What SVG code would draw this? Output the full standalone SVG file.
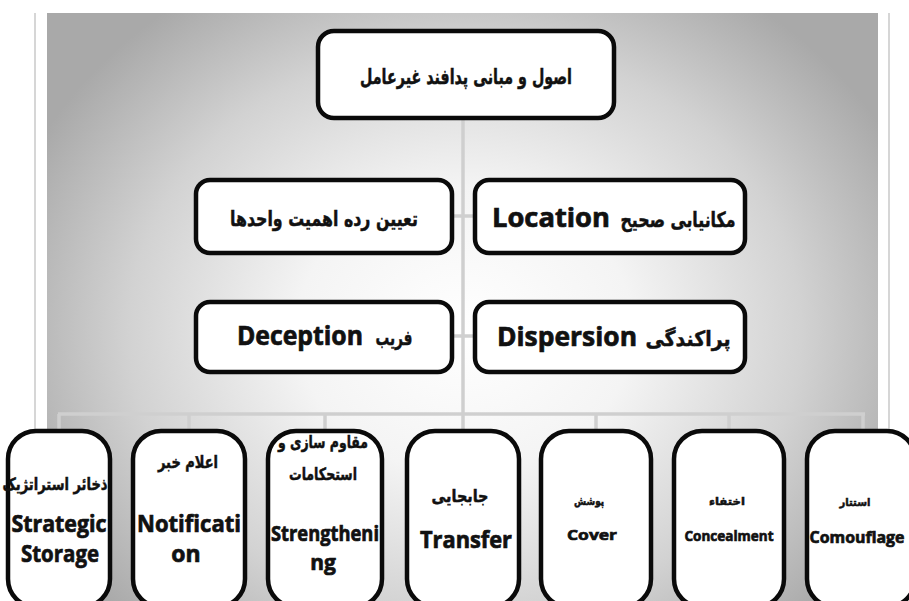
<svg xmlns="http://www.w3.org/2000/svg" width="909" height="601" viewBox="0 0 909 601">
<defs>
<radialGradient id="bg" cx="465" cy="330" r="480" gradientUnits="userSpaceOnUse" gradientTransform="translate(465 330) scale(1 0.85) translate(-465 -330)">
<stop offset="0" stop-color="#ffffff"/>
<stop offset="0.35" stop-color="#f4f4f4"/>
<stop offset="0.7" stop-color="#d2d2d2"/>
<stop offset="1" stop-color="#a9a9a9"/>
</radialGradient>
</defs>
<style>
.box{fill:#ffffff;stroke:#0a0a0a;stroke-width:4.5}
.con{fill:none;stroke:#cfcfcf;stroke-width:3.5}
.fa{font-family:"DejaVu Sans",sans-serif;font-weight:bold;fill:#111111;stroke:#111111;stroke-width:0.5;text-anchor:middle}
.en{font-family:"Open Sans","DejaVu Sans",sans-serif;font-weight:bold;fill:#111111;stroke:#111111;stroke-width:0.7;text-anchor:middle}
</style>
<rect x="0" y="0" width="909" height="601" fill="#ffffff"/>
<line x1="35" y1="13" x2="35" y2="601" stroke="#d6d6d6" stroke-width="2"/>
<line x1="889" y1="13" x2="889" y2="601" stroke="#d6d6d6" stroke-width="2"/>
<rect x="47" y="13" width="831" height="588" fill="url(#bg)"/>

<g id="connectors">
<line class="con" x1="463" y1="118" x2="463" y2="414"/>
<line class="con" x1="452" y1="216" x2="475" y2="216"/>
<line class="con" x1="452" y1="336" x2="475" y2="336"/>
<line class="con" x1="58" y1="414" x2="865" y2="414"/>
<line class="con" x1="59" y1="414" x2="59" y2="432"/>
<line class="con" x1="189" y1="414" x2="189" y2="432"/>
<line class="con" x1="325" y1="414" x2="325" y2="432"/>
<line class="con" x1="463" y1="414" x2="463" y2="432"/>
<line class="con" x1="596" y1="414" x2="596" y2="432"/>
<line class="con" x1="729" y1="414" x2="729" y2="432"/>
<line class="con" x1="863" y1="414" x2="863" y2="432"/>
</g>

<g id="root">
<rect class="box" x="318" y="31" width="296" height="87" rx="16" stroke-width="5.5"/>
<text class="fa" x="466" y="84" font-size="21" textLength="212" lengthAdjust="spacingAndGlyphs">اصول و مبانی پدافند غیرعامل</text>
</g>

<g id="n-rank">
<rect class="box" x="196" y="180" width="256" height="73" rx="14"/>
<text class="fa" x="324" y="226" font-size="21" textLength="188" lengthAdjust="spacingAndGlyphs">تعیین رده اهمیت واحدها</text>
</g>

<g id="n-location">
<rect class="box" x="475" y="180" width="270" height="73" rx="14"/>
<text class="en" x="551" y="227" font-size="27" textLength="118" lengthAdjust="spacingAndGlyphs">Location</text>
<text class="fa" x="678" y="227" font-size="21" textLength="115" lengthAdjust="spacingAndGlyphs">مکانیابی صحیح</text>
</g>

<g id="n-deception">
<rect class="box" x="196" y="302" width="256" height="70" rx="14"/>
<text class="en" x="300" y="345" font-size="27" textLength="126" lengthAdjust="spacingAndGlyphs">Deception</text>
<text class="fa" x="394" y="345" font-size="21" textLength="37" lengthAdjust="spacingAndGlyphs">فریب</text>
</g>

<g id="n-dispersion">
<rect class="box" x="475" y="302" width="270" height="70" rx="14"/>
<text class="en" x="567" y="346" font-size="27" textLength="140" lengthAdjust="spacingAndGlyphs">Dispersion</text>
<text class="fa" x="688" y="346" font-size="21" textLength="85" lengthAdjust="spacingAndGlyphs">پراکندگی</text>
</g>

<g id="n-storage">
<rect class="box" x="8" y="431" width="102" height="176" rx="28"/>
<text class="fa" x="55" y="490" font-size="17" textLength="105" lengthAdjust="spacingAndGlyphs">ذخائر استراتژیک</text>
<text class="en" x="59" y="532" font-size="23" textLength="95" lengthAdjust="spacingAndGlyphs">Strategic</text>
<text class="en" x="60" y="562" font-size="23" textLength="78" lengthAdjust="spacingAndGlyphs">Storage</text>
</g>

<g id="n-notification">
<rect class="box" x="133" y="431" width="112" height="176" rx="28"/>
<text class="fa" x="188" y="468" font-size="17" textLength="60" lengthAdjust="spacingAndGlyphs">اعلام خبر</text>
<text class="en" x="189" y="532" font-size="23" textLength="104" lengthAdjust="spacingAndGlyphs">Notificati</text>
<text class="en" x="186" y="562" font-size="23">on</text>
</g>

<g id="n-strength">
<rect class="box" x="268" y="431" width="114" height="176" rx="28"/>
<text class="fa" x="323" y="448" font-size="17" textLength="90" lengthAdjust="spacingAndGlyphs">مقاوم سازی و</text>
<text class="fa" x="323" y="480" font-size="17" textLength="68" lengthAdjust="spacingAndGlyphs">استحکامات</text>
<text class="en" x="325" y="541" font-size="21" textLength="108" lengthAdjust="spacingAndGlyphs">Strengtheni</text>
<text class="en" x="323" y="570" font-size="21">ng</text>
</g>

<g id="n-transfer">
<rect class="box" x="407" y="431" width="112" height="176" rx="28"/>
<text class="fa" x="460" y="502" font-size="17" textLength="57" lengthAdjust="spacingAndGlyphs">جابجایی</text>
<text class="en" x="466" y="548" font-size="23" textLength="92" lengthAdjust="spacingAndGlyphs">Transfer</text>
</g>

<g id="n-cover">
<rect class="box" x="541" y="431" width="110" height="176" rx="28"/>
<text class="fa" x="589" y="505" font-size="11" textLength="30" lengthAdjust="spacingAndGlyphs" stroke-width="0.3">پوشش</text>
<text class="en" x="592" y="540" font-size="15" textLength="50" lengthAdjust="spacingAndGlyphs" stroke-width="0.4">Cover</text>
</g>

<g id="n-conceal">
<rect class="box" x="674" y="431" width="110" height="176" rx="28"/>
<text class="fa" x="727" y="505" font-size="11" textLength="36" lengthAdjust="spacingAndGlyphs" stroke-width="0.3">اختفاء</text>
<text class="en" x="729" y="541" font-size="15" textLength="89" lengthAdjust="spacingAndGlyphs" stroke-width="0.4">Concealment</text>
</g>

<g id="n-camo">
<rect class="box" x="807" y="431" width="108" height="176" rx="28"/>
<text class="fa" x="855" y="506" font-size="11" textLength="31" lengthAdjust="spacingAndGlyphs" stroke-width="0.3">استتار</text>
<text class="en" x="857" y="543" font-size="16" textLength="95" lengthAdjust="spacingAndGlyphs" stroke-width="0.4">Comouflage</text>
</g>
</svg>
